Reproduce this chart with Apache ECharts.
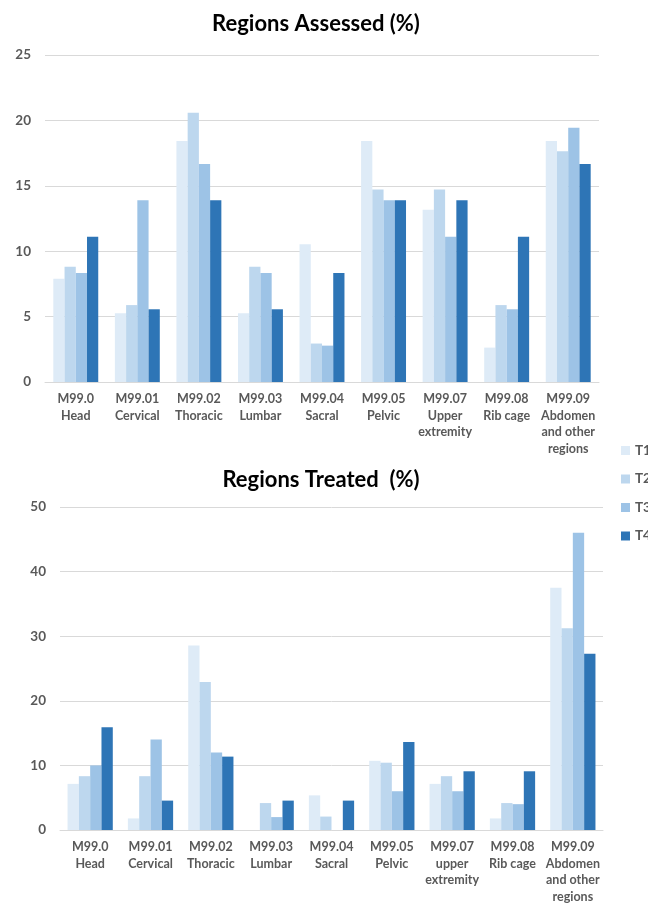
<!DOCTYPE html>
<html>
<head>
<meta charset="utf-8">
<style>
  html, body { margin: 0; padding: 0; background: #fff; }
  #chart { width: 648px; height: 905px; }
</style>
<script src="https://cdn.jsdelivr.net/npm/echarts@6/dist/echarts.min.js"></script>
</head>
<body>
<div id="chart"></div>
<script>
// Region categories (ICD-10 M99.x somatic dysfunction codes)
const assessedCategories = ['M99.0\nHead', 'M99.01\nCervical', 'M99.02\nThoracic', 'M99.03\nLumbar', 'M99.04\nSacral', 'M99.05\nPelvic', 'M99.07\nUpper\nextremity', 'M99.08\nRib cage', 'M99.09\nAbdomen\nand other\nregions'];
const treatedCategories = ['M99.0\nHead', 'M99.01\nCervical', 'M99.02\nThoracic', 'M99.03\nLumbar', 'M99.04\nSacral', 'M99.05\nPelvic', 'M99.07\nupper\nextremity', 'M99.08\nRib cage', 'M99.09\nAbdomen\nand other\nregions'];

const seriesNames = ['T1', 'T2', 'T3', 'T4'];

// Regions assessed (%) per time point
const assessedT1 = [7.89, 5.26, 18.42, 5.26, 10.53, 18.42, 13.16, 2.63, 18.42];
const assessedT2 = [8.82, 5.88, 20.59, 8.82, 2.94, 14.71, 14.71, 5.88, 17.65];
const assessedT3 = [8.33, 13.89, 16.67, 8.33, 2.78, 13.89, 11.11, 5.56, 19.44];
const assessedT4 = [11.11, 5.56, 13.89, 5.56, 8.33, 13.89, 13.89, 11.11, 16.67];

// Regions treated (%) per time point
const treatedT1 = [7.14, 1.79, 28.57, 0, 5.36, 10.71, 7.14, 1.79, 37.5];
const treatedT2 = [8.33, 8.33, 22.92, 4.17, 2.08, 10.42, 8.33, 4.17, 31.25];
const treatedT3 = [10, 14, 12, 2, 0, 6, 6, 4, 46];
const treatedT4 = [15.91, 4.55, 11.36, 4.55, 4.55, 13.64, 9.09, 9.09, 27.27];

const assessedTicks = { min: 0, max: 25, interval: 5 };
const treatedTicks = { min: 0, max: 50, interval: 10 };

const palette = ['#DEEBF7', '#BDD7EE', '#9DC3E6', '#2E75B6'];
const font = 'Lato, "Open Sans", "Liberation Sans", sans-serif';
const textGray = '#595959';
const gridGray = '#D9D9D9';

function catAxis(gridIndex, data) {
  return {
    type: 'category', gridIndex, data,
    axisLine: { lineStyle: { color: gridGray } },
    axisTick: { show: false },
    axisLabel: {
      interval: 0, color: textGray, fontFamily: font, fontWeight: 'bold',
      fontSize: 12.5, lineHeight: 16.5, margin: 9
    }
  };
}
function valAxis(gridIndex, ticks) {
  return {
    type: 'value', gridIndex, min: ticks.min, max: ticks.max, interval: ticks.interval,
    axisLine: { show: false }, axisTick: { show: false },
    splitLine: { lineStyle: { color: gridGray, width: 1 } },
    axisLabel: { color: textGray, fontFamily: font, fontWeight: 'bold', fontSize: 13.5, margin: 14 }
  };
}

const assessedData = [assessedT1, assessedT2, assessedT3, assessedT4];
const treatedData = [treatedT1, treatedT2, treatedT3, treatedT4];

const series = [];
assessedData.forEach((d, i) => series.push({
  name: seriesNames[i], type: 'bar', xAxisIndex: 0, yAxisIndex: 0, data: d,
  barGap: '0%', barCategoryGap: '27%', itemStyle: { color: palette[i] }
}));
treatedData.forEach((d, i) => series.push({
  name: seriesNames[i], type: 'bar', xAxisIndex: 1, yAxisIndex: 1, data: d,
  barGap: '0%', barCategoryGap: '25%', itemStyle: { color: palette[i] }
}));

const chart = echarts.init(document.getElementById('chart'), null, { renderer: 'canvas' });
chart.setOption({
  animation: false,
  color: palette,
  title: [
    { text: 'Regions Assessed (%)', left: 311, top: 8, textAlign: 'center',
      textStyle: { fontFamily: font, fontWeight: 'bold', fontSize: 22, color: '#000' } },
    { text: 'Regions Treated  (%)', left: 316, top: 464, textAlign: 'center',
      textStyle: { fontFamily: font, fontWeight: 'bold', fontSize: 22, color: '#000' } }
  ],
  legend: {
    data: seriesNames, orient: 'vertical', left: 621, top: 443.5, padding: 0,
    itemWidth: 9, itemHeight: 9, itemGap: 14.5, icon: 'rect',
    textStyle: { color: textGray, fontFamily: font, fontWeight: 'bold', fontSize: 13.5 }
  },
  grid: [
    { left: 45, right: 49, top: 55, bottom: 523, containLabel: false },
    { left: 60, right: 45, top: 507, bottom: 72, containLabel: false }
  ],
  xAxis: [catAxis(0, assessedCategories), catAxis(1, treatedCategories)],
  yAxis: [valAxis(0, assessedTicks), valAxis(1, treatedTicks)],
  series
});
</script>
</body>
</html>
